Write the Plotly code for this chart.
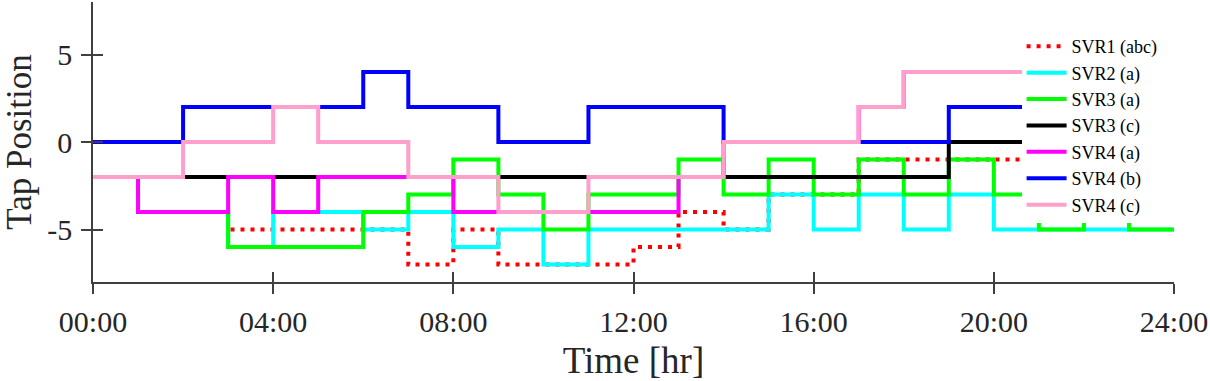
import plotly.graph_objects as go

# hourly tap positions (step held for each hour)
hours = [0, 1, 2, 3, 4, 5, 6, 7, 8, 9, 10, 11, 12, 13, 14, 15, 16, 17, 18, 19, 20, 21, 22, 23, 24]

svr1_abc = [-2, -4, -4, -5, -5, -5, -5, -7, -5, -7, -7, -7, -6, -4, -5, -3, -3, -1, -1, -1, -1, -1, -1, -1]
svr2_a = [-2, -4, -4, -6, -4, -4, -5, -4, -6, -5, -7, -5, -5, -5, -5, -3, -5, -3, -5, -3, -5, -5, -5, -5]
svr3_a = [-2, -4, -4, -6, -6, -6, -4, -3, -1, -3, -5, -3, -3, -1, -3, -1, -3, -1, -3, -1, -3, -5, -3, -5]
svr3_c = [-2, -2, -2, -2, -2, -2, -2, -2, -2, -2, -2, -2, -2, -2, -2, -2, -2, -2, -2, 0, 0, 0, 0, 0]
svr4_a = [-2, -4, -4, -2, -4, -2, -2, -2, -4, -4, -4, -4, -4, -2, 0, 0, 0, 2, 4, 4, 4, 4, 4, 4]
svr4_b = [0, 0, 2, 2, 2, 2, 4, 2, 2, 0, 0, 2, 2, 2, 0, 0, 0, 0, 0, 2, 2, 2, 2, 2]
svr4_c = [-2, -2, 0, 0, 2, 0, 0, -2, -2, -4, -4, -2, -2, -2, 0, 0, 0, 2, 4, 4, 4, 4, 4, 4]

x_ticks = [0, 4, 8, 12, 16, 20, 24]
x_labels = ["00:00", "04:00", "08:00", "12:00", "16:00", "20:00", "24:00"]
y_ticks = [-5, 0, 5]
y_labels = ["-5", "0", "5"]

series = [
    ("SVR1 (abc)", svr1_abc, "#FF0000", "4px,6px"),
    ("SVR2 (a)", svr2_a, "#00FFFF", "solid"),
    ("SVR3 (a)", svr3_a, "#00FF00", "solid"),
    ("SVR3 (c)", svr3_c, "#000000", "solid"),
    ("SVR4 (a)", svr4_a, "#FF00FF", "solid"),
    ("SVR4 (b)", svr4_b, "#0000FF", "solid"),
    ("SVR4 (c)", svr4_c, "#FF9FCB", "solid"),
]

font_family = "Times New Roman, Liberation Serif, serif"
axis_grey = "#404040"
pad = "\u00a0" * 6  # widens the legend box so it masks the line ends like the original

fig = go.Figure()
for i, (name, vals, color, dash) in enumerate(series):
    # last series goes on the overlay axes so their inner tick halves get drawn
    last = i == len(series) - 1
    fig.add_trace(go.Scatter(
        x=hours, y=vals + [vals[-1]],
        name=name + (pad if i == 0 else ""), mode="lines",
        line=dict(shape="hv", color=color, width=4, dash=dash),
        xaxis="x2" if last else "x", yaxis="y2" if last else "y",
    ))

fig.update_layout(
    width=1210, height=381,
    margin=dict(l=93, r=36, t=2, b=99),
    plot_bgcolor="white", paper_bgcolor="white",
    font=dict(family=font_family, size=30, color="#262626"),
    showlegend=True,
    legend=dict(
        x=0.859, y=0.907, xanchor="left", yanchor="top",
        bgcolor="white", borderwidth=0,
        font=dict(family=font_family, size=18, color="#000000"),
        tracegroupgap=0, itemwidth=40,
    ),
    xaxis=dict(
        range=[0, 24], tickvals=x_ticks, ticktext=x_labels,
        showline=True, linecolor=axis_grey, linewidth=1.5,
        ticks="outside", ticklen=10, tickwidth=1.5, tickcolor=axis_grey,
        ticklabelstandoff=2,
        showgrid=False, zeroline=False, automargin=False,
        title=dict(text="Time [hr]", font=dict(size=37), standoff=10),
    ),
    yaxis=dict(
        range=[-8, 8], tickvals=y_ticks, ticktext=y_labels,
        showline=True, linecolor=axis_grey, linewidth=1.5,
        ticks="outside", ticklen=10, tickwidth=1.5, tickcolor=axis_grey,
        ticklabelstandoff=3,
        showgrid=False, zeroline=False, automargin=False,
        title=dict(text="Tap Position", font=dict(size=35), standoff=14),
    ),
    # inner halves of the tick marks
    xaxis2=dict(
        overlaying="x", matches="x", anchor="y", side="bottom",
        tickvals=x_ticks, showticklabels=False,
        ticks="inside", ticklen=10, tickwidth=1.5, tickcolor=axis_grey,
        showgrid=False, zeroline=False, showline=False, automargin=False,
    ),
    yaxis2=dict(
        overlaying="y", matches="y", anchor="x", side="left",
        tickvals=y_ticks, showticklabels=False,
        ticks="inside", ticklen=10, tickwidth=1.5, tickcolor=axis_grey,
        showgrid=False, zeroline=False, showline=False, automargin=False,
    ),
)

fig.write_html("out.html", config={"displayModeBar": False},
               post_script="document.body.style.margin='0';")
